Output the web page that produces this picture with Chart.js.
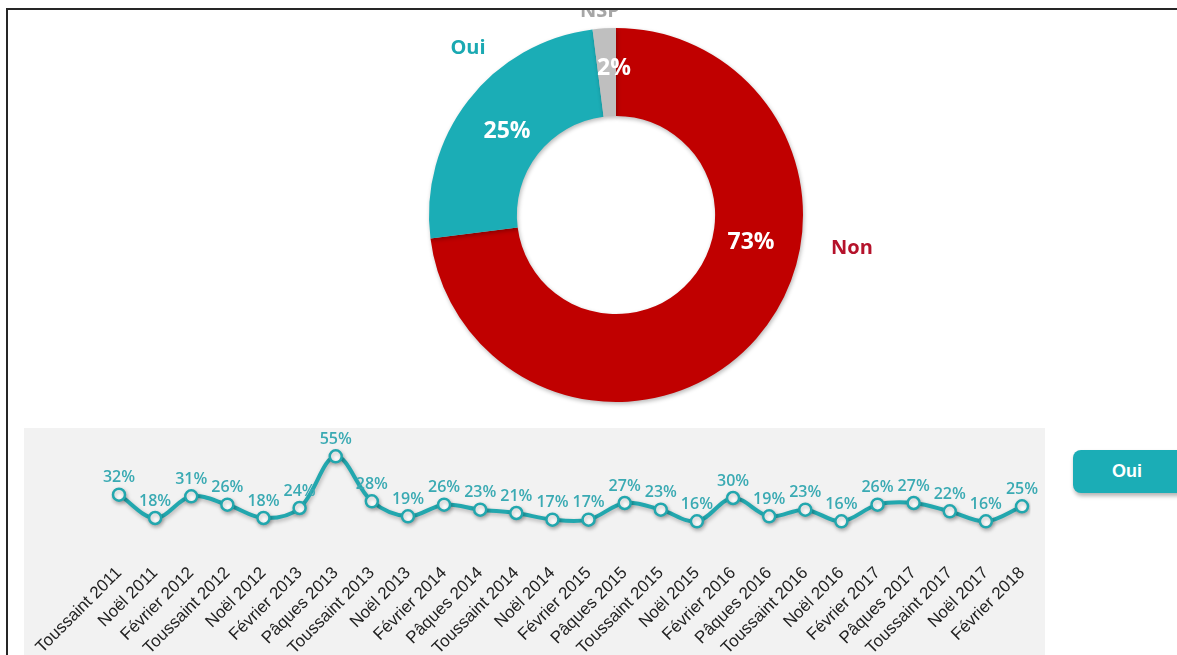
<!DOCTYPE html>
<html>
<head>
<meta charset="utf-8">
<script src="https://cdn.jsdelivr.net/npm/chart.js@4.4.1/dist/chart.umd.min.js"></script>
<style>
  body { margin: 0; width: 1177px; height: 655px; overflow: hidden; background: #fff; font-family: "Open Sans", sans-serif; }
  #frame { position: absolute; left: 6px; top: 8px; width: 1171px; height: 647px; box-sizing: border-box;
           border-left: 2px solid #262626; border-top: 2px solid #262626; overflow: hidden; }
  #donutBox { position: absolute; left: 322px; top: -22px; width: 600px; height: 442px; }
  #panel { position: absolute; left: 16px; top: 418px; width: 1021px; height: 240px; background: #f2f2f2; }
  #lineBox { position: absolute; left: 16px; top: 418px; width: 1021px; height: 227px; }
  #ouiBtn { position: absolute; left: 1065px; top: 440px; width: 130px; height: 43px; border-radius: 8px;
            background: #1badb6; color: #fff; font: bold 18px Arial, sans-serif; line-height: 43px;
            padding-right: 22px; box-sizing: border-box; text-align: center;
            box-shadow: 1px 3px 4px rgba(0,0,0,0.3); }
</style>
</head>
<body>
<div id="frame">
  <div id="donutBox"><canvas id="donut" width="600" height="442"></canvas></div>
  <div id="panel"></div>
  <div id="lineBox"><canvas id="line" width="1021" height="227"></canvas></div>
  <div id="ouiBtn">Oui</div>
</div>
<script>
// Doughnut data
const donutLabels = ['Non', 'Oui', 'NSP'];
const donutValues = [73, 25, 2];
const donutColors = ['#c00000', '#1badb6', '#bfbfbf'];

// Trend data (Oui)
const periods = ['Toussaint 2011', 'Noël 2011', 'Février 2012', 'Toussaint 2012', 'Noël 2012', 'Février 2013',
  'Pâques 2013', 'Toussaint 2013', 'Noël 2013', 'Février 2014', 'Pâques 2014', 'Toussaint 2014', 'Noël 2014',
  'Février 2015', 'Pâques 2015', 'Toussaint 2015', 'Noël 2015', 'Février 2016', 'Pâques 2016', 'Toussaint 2016',
  'Noël 2016', 'Février 2017', 'Pâques 2017', 'Toussaint 2017', 'Noël 2017', 'Février 2018'];
const ouiValues = [32, 18, 31, 26, 18, 24, 55, 28, 19, 26, 23, 21, 17, 17, 27, 23, 16, 30, 19, 23, 16, 26, 27, 22, 16, 25];

// label placement around the doughnut, relative to its centre
const pctOffsets = [[135, 27], [-109, -84], [-2, -147]];
const nameOffsets = [[236, 33], [-148, -167], [-16, -204]];
const nameColors = ['#b5122b', '#1aa9b2', '#a6a6a6'];

const shadowPlugin = {
  id: 'shadow',
  beforeDatasetsDraw(chart) {
    const ctx = chart.ctx;
    ctx.save();
    ctx.shadowColor = 'rgba(0,0,0,0.28)';
    ctx.shadowBlur = 4;
    ctx.shadowOffsetX = 1;
    ctx.shadowOffsetY = 2;
  },
  afterDatasetsDraw(chart) {
    chart.ctx.restore();
  }
};

const donutLabelPlugin = {
  id: 'donutLabels',
  afterDraw(chart) {
    const ctx = chart.ctx;
    const arcs = chart.getDatasetMeta(0).data;
    ctx.save();
    ctx.textAlign = 'center';
    ctx.textBaseline = 'middle';
    arcs.forEach((arc, i) => {
      ctx.font = 'bold 23px "Open Sans"';
      ctx.fillStyle = '#fff';
      ctx.fillText(donutValues[i] + '%', arc.x + pctOffsets[i][0], arc.y + pctOffsets[i][1]);
      ctx.font = 'bold 20px "Open Sans"';
      ctx.fillStyle = nameColors[i];
      ctx.fillText(donutLabels[i], arc.x + nameOffsets[i][0], arc.y + nameOffsets[i][1]);
    });
    ctx.restore();
  }
};

new Chart(document.getElementById('donut'), {
  type: 'doughnut',
  data: {
    labels: donutLabels,
    datasets: [{
      data: donutValues,
      backgroundColor: donutColors,
      borderWidth: 0,
    }],
  },
  options: {
    responsive: false,
    animation: false,
    cutout: '53%',
    layout: { padding: { left: 99, right: 127, top: 40, bottom: 28 } },
    plugins: { legend: { display: false }, tooltip: { enabled: false } },
  },
  plugins: [shadowPlugin, donutLabelPlugin],
});

const pointLabelPlugin = {
  id: 'pointLabels',
  afterDatasetsDraw(chart) {
    const ctx = chart.ctx;
    const pts = chart.getDatasetMeta(0).data;
    ctx.save();
    ctx.font = '600 16px "Open Sans"';
    ctx.fillStyle = '#3aaab3';
    ctx.textAlign = 'center';
    ctx.textBaseline = 'bottom';
    pts.forEach((p, i) => {
      ctx.fillText(ouiValues[i] + '%', p.x, p.y - 9);
    });
    ctx.restore();
  }
};

new Chart(document.getElementById('line'), {
  type: 'line',
  data: {
    labels: periods,
    datasets: [{
      label: 'Oui',
      data: ouiValues,
      borderColor: '#22a7ae',
      borderWidth: 4,
      tension: 0.35,
      pointRadius: 6,
      pointBorderWidth: 2.5,
      pointBackgroundColor: '#fff',
      pointBorderColor: '#22a7ae',
    }],
  },
  options: {
    responsive: false,
    animation: false,
    layout: { padding: { left: 95, right: 23, top: 20, bottom: 0 } },
    plugins: { legend: { display: false }, tooltip: { enabled: false } },
    scales: {
      y: { display: false, min: 0, max: 60 },
      x: {
        grid: { display: false },
        border: { display: false },
        ticks: {
          autoSkip: false,
          minRotation: 45,
          maxRotation: 45,
          padding: 7,
          color: '#222',
          font: { family: 'Arial', size: 17 },
        },
        afterFit(scale) {
          scale.height = 107;
          scale.paddingLeft = 0;
          scale.paddingRight = 0;
        },
      },
    },
  },
  plugins: [shadowPlugin, pointLabelPlugin],
});
</script>
</body>
</html>
